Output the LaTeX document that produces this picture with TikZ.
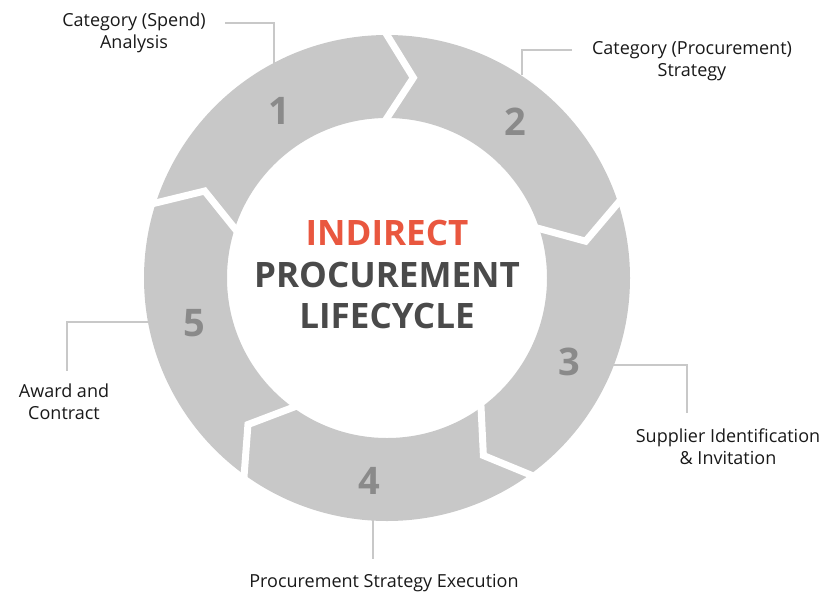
\documentclass[tikz,border=0pt]{standalone}
\usepackage{fontspec}
\setmainfont{Open Sans}
\usetikzlibrary{calc}
\definecolor{ringgray}{HTML}{C8C8C8}
\definecolor{numgray}{HTML}{8A8A8A}
\definecolor{accent}{HTML}{E9573F}
\definecolor{darktext}{HTML}{4A4A4A}
\definecolor{leadgray}{HTML}{C8C8C8}
\begin{document}
\begin{tikzpicture}[x=1pt,y=1pt,
  leader/.style={draw=leadgray, line width=2.6pt},
  steplabel/.style={align=center, font=\fontsize{18}{22}\selectfont, text=black!90, inner sep=0pt},
  stepnum/.style={font=\fontsize{38}{38}\selectfont\bfseries, text=numgray, inner sep=0pt},
  title/.style={font=\fontsize{35}{35}\selectfont\bfseries, inner sep=0pt},
  gap/.style={draw=white, line width=7pt, miter limit=10}]
\useasboundingbox (0,0) rectangle (828,-595);
\coordinate (c) at (387,-278);
% the ring
\fill[ringgray, even odd rule] (c) circle[radius=243pt] (c) circle[radius=160pt];
% chevron-shaped cuts between the five stages
\foreach \a in {90,18,-54,-126,162} {
  \coordinate (t) at ($(c)+(\a-7.5:202)$);
  \coordinate (o) at ($(c)+(\a:243)$);
  \coordinate (i) at ($(c)+(\a:160)$);
  \draw[gap] ($(t)!1.3!(o)$) -- (t) -- ($(t)!1.3!(i)$);
}
% stage numbers
\node[stepnum] (n1) at (279,-111) {1};
\node[stepnum] (n2) at (515,-122) {2};
\node[stepnum] (n3) at (569,-362) {3};
\node[stepnum] (n4) at (369,-481) {4};
\node[stepnum] (n5) at (194,-323) {5};
% centre title
\node[title, text=accent] (t1) at (387,-233) {INDIRECT};
\node[title, text=darktext] (t2) at (387,-275) {PROCUREMENT};
\node[title, text=darktext] (t3) at (387,-316) {LIFECYCLE};
% stage labels
\node[steplabel] (l1) at (134,-33) {Category (Spend)\\Analysis};
\node[steplabel] (l2) at (692,-61) {Category (Procurement)\\Strategy};
\node[steplabel] (l3) at (728,-447) {Supplier Identification\\\& Invitation};
\node[steplabel] (l4) at (384,-583) {Procurement Strategy Execution};
\node[steplabel] (l5) at (64,-402) {Award and\\Contract};
% leader lines
\coordinate (a1) at (274,-63);  \coordinate (k1) at (225,-23);
\coordinate (a2) at (522,-75);  \coordinate (k2) at (572,-50);
\coordinate (a3) at (613,-365); \coordinate (k3) at (687,-413);
\coordinate (a4) at (373,-520); \coordinate (k4) at (373,-559);
\coordinate (a5) at (148,-322); \coordinate (k5) at (67,-371);
\draw[leader] (k1) -| (a1);
\draw[leader] (k2) -| (a2);
\draw[leader] (a3) -| (k3);
\draw[leader] (a4) -- (k4);
\draw[leader] (a5) -| (k5);
\end{tikzpicture}
\end{document}
